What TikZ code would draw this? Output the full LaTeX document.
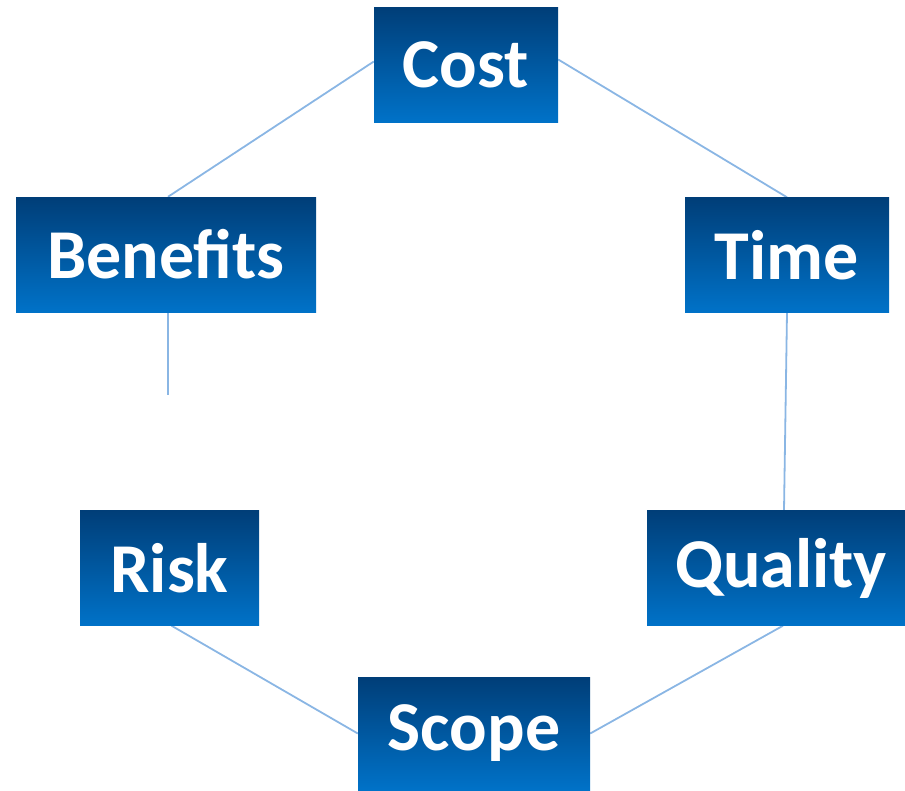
\documentclass[tikz,border=0pt]{standalone}
\usepackage{fontspec}
\setmainfont{Carlito}
\usetikzlibrary{backgrounds}
\definecolor{boxtop}{HTML}{003E78}
\definecolor{boxbot}{HTML}{0072C8}
\definecolor{linkc}{HTML}{8AB6E4}
\begin{document}
\begin{tikzpicture}[x=1pt,y=-1pt,
  box/.style={rectangle, inner sep=0pt, top color=boxtop, bottom color=boxbot,
    text=white, font=\fontsize{70}{74}\selectfont\bfseries, minimum height=115pt},
  link/.style={draw=linkc, line width=1.8pt}]
\useasboundingbox (0,0) rectangle (905,790);
\node[box, minimum width=184pt] (cost) at (466,64.5) {Cost};
\node[box, minimum width=300pt] (ben) at (166,254.5) {Benefits};
\node[box, minimum width=204pt] (time) at (787,255) {Time};
\node[box, minimum width=179pt] (risk) at (169.5,568) {Risk};
\node[box, minimum width=258pt] (qual) at (776,568) {\hspace*{10pt}Quality};
\node[box, minimum width=232pt, minimum height=113pt] (scope) at (474,733.5) {Scope};
\coordinate (benend) at (168,395);
\begin{scope}[on background layer]
\draw[link] ([yshift=3pt]cost.west) -- ([xshift=2pt]ben.north);
\draw[link] ([yshift=5pt]cost.east) -- (time.north);
\draw[link] ([xshift=2pt]ben.south) -- (benend);
\draw[link] (time.south) -- ([xshift=8pt]qual.north);
\draw[link] ([xshift=2pt]risk.south) -- (scope.west);
\draw[link] ([xshift=7pt]qual.south) -- (scope.east);
\end{scope}
\end{tikzpicture}
\end{document}
